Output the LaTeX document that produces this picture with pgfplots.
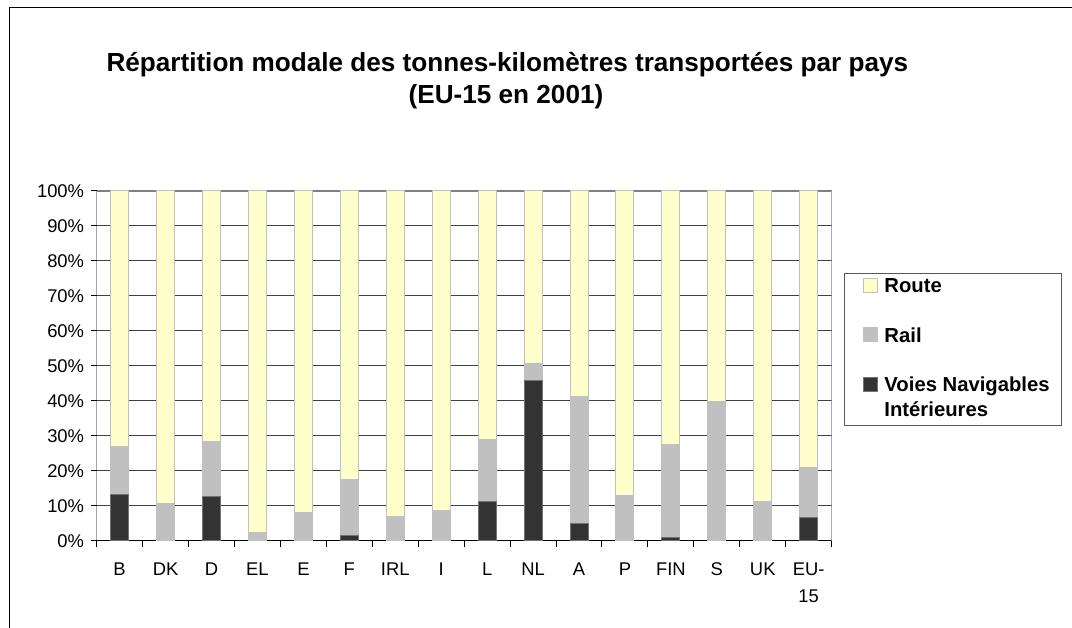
\documentclass[border=0pt]{standalone}
\usepackage{fontspec}
\setmainfont{Liberation Sans}
\usepackage{pgfplots}
\usepackage{pgfplotstable}
\pgfplotsset{compat=1.18}
\definecolor{routec}{HTML}{FFFFCC}
\definecolor{railc}{HTML}{C0C0C0}
\definecolor{voiec}{HTML}{333333}
\definecolor{gridc}{HTML}{404040}
\definecolor{framec}{HTML}{808080}
\pgfplotstableread{
x dark rail route
0 13.3 13.8 72.9
1 0 10.7 89.3
2 12.7 15.8 71.5
3 0 2.3 97.7
4 0 8.2 91.8
5 1.5 16.0 82.5
6 0 7.0 93.0
7 0 8.6 91.4
8 11.2 17.9 70.9
9 45.9 4.8 49.3
10 4.9 36.5 58.6
11 0 13.1 86.9
12 1.0 26.6 72.4
13 0 39.8 60.2
14 0 11.3 88.7
15 6.7 14.4 78.9
}\data
\newcommand{\lstrut}{\rule[-3pt]{0pt}{12pt}}
\begin{document}
\begin{tikzpicture}
\useasboundingbox (0,0) rectangle (804pt,471pt);
\draw[line width=0.75pt] (6.75pt,-5pt) -- (6.75pt,465.2pt) -- (815pt,465.2pt);
\node[anchor=base, font=\fontsize{19.6}{24}\selectfont\bfseries] at (380.5pt,417.2pt) {Répartition modale des tonnes-kilomètres transportées par pays};
\node[anchor=base, font=\fontsize{19.6}{24}\selectfont\bfseries] at (379.5pt,393.4pt) {(EU-15 en 2001)};
\begin{axis}[
  at={(72.5pt,65.25pt)}, anchor=south west,
  scale only axis, width=551.25pt, height=262.5pt,
  ybar stacked, bar width=13.5pt,
  xmin=-0.5, xmax=15.5, ymin=0, ymax=100,
  xtick={0,...,15},
  xticklabels={B,DK,D,EL,E,F,IRL,I,L,NL,A,P,FIN,S,UK,{EU-\\15}},
  minor xtick={-0.5,0.5,...,15.5},
  ytick={0,10,...,100},
  yticklabels={0\%,10\%,20\%,30\%,40\%,50\%,60\%,70\%,80\%,90\%,100\%},
  tick align=outside, tick pos=left,
  major tick length=4.5pt, minor tick length=4.5pt,
  major x tick style={draw=none},
  minor x tick style={black, line width=0.75pt},
  major y tick style={black, line width=0.75pt},
  ymajorgrids, major grid style={gridc, line width=0.75pt},
  axis line style={draw=none},
  ticklabel style={font=\fontsize{13.8}{20.25}\selectfont},
  xticklabel style={align=center, anchor=north, yshift=-8.4pt},
  yticklabel style={xshift=-1.4pt},
  legend style={at={(1.01673,0.76571)}, anchor=north west,
    draw=black!65, line width=0.75pt, inner xsep=0pt, inner ysep=3.5pt,
    row sep=22.9pt, column sep=4.5pt,
    nodes={inner sep=0pt, text depth=},
    cells={anchor=base west},
    font=\fontsize{15.2}{18.75}\selectfont\bfseries},
  legend image code/.code={\path (0pt,0pt); \draw[#1, line width=0.75pt] (14.25pt,0.2pt) rectangle (24.75pt,10.7pt);},
  reverse legend,
]
\addplot[fill=voiec, draw=black!55, line width=0.75pt] table[x=x,y=dark]{\data};
\addplot[fill=railc, draw=railc, line width=0.75pt] table[x=x,y=rail]{\data};
\addplot[fill=routec, draw=railc, line width=0.75pt] table[x=x,y=route]{\data};
\legend{\parbox[t]{132.75pt}{\lstrut Voies Navigables\\\lstrut Intérieures},\parbox[t]{132.75pt}{\lstrut Rail},\parbox[t]{132.75pt}{\lstrut Route}}
\draw[framec, line width=1.2pt] (rel axis cs:0,1) -- (rel axis cs:1,1) -- (rel axis cs:1,0);
\draw[black, line width=0.75pt] (rel axis cs:0,1) -- (rel axis cs:0,0) -- (rel axis cs:1,0);
\end{axis}
\end{tikzpicture}
\end{document}
